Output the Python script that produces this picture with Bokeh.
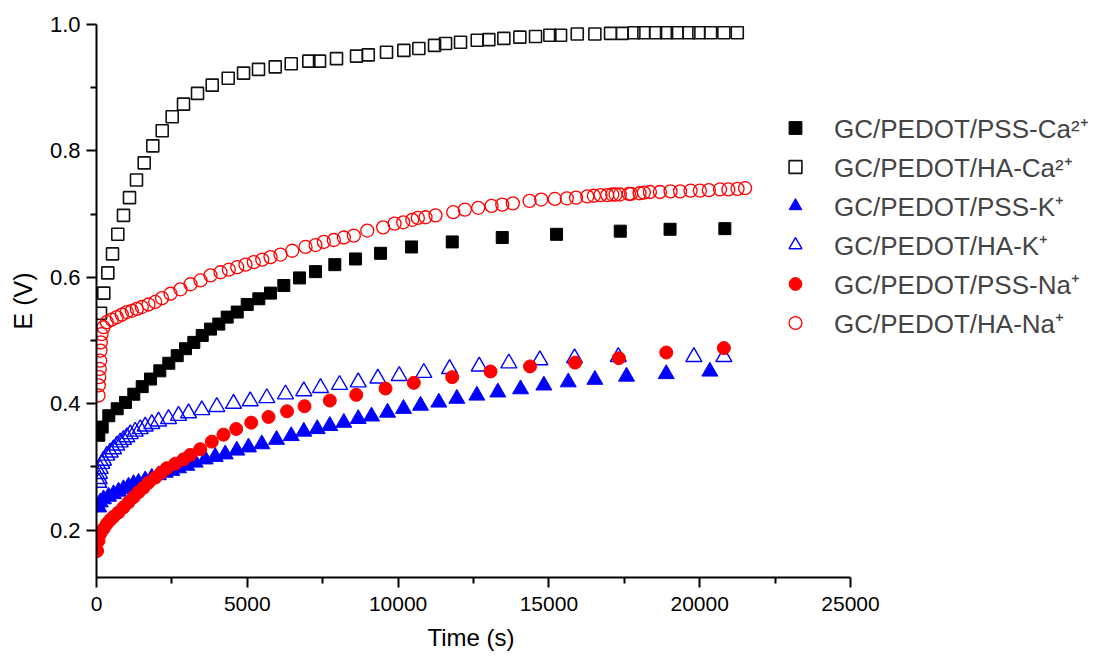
from bokeh.plotting import figure
from bokeh.models import FixedTicker, Legend, LegendItem, Range1d, PrintfTickFormatter, Title
from bokeh.embed import file_html
from bokeh.resources import INLINE

FONT = "Liberation Sans"

# ---- data (Time in s, E in V) ----
t_pss_ca = [76, 189, 408, 686, 962, 1237, 1515, 1791, 2099, 2397, 2676, 2951, 3227, 3505, 3780,
            4055, 4334, 4666, 4997, 5382, 5770, 6211, 6731, 7262, 7902, 8589, 9418, 10445, 11795,
            13453, 15254, 17366, 19017, 20834]
e_pss_ca = [0.350, 0.363, 0.381, 0.392, 0.402, 0.415, 0.427, 0.439, 0.452, 0.464, 0.476, 0.487,
            0.497, 0.508, 0.518, 0.526, 0.537, 0.545, 0.557, 0.566, 0.575, 0.587, 0.599, 0.609,
            0.620, 0.629, 0.638, 0.648, 0.656, 0.663, 0.668, 0.673, 0.676, 0.677]

t_ha_ca = [133, 242, 375, 531, 706, 895, 1094, 1326, 1582, 1867, 2179, 2510, 2885, 3349, 3837,
           4367, 4875, 5372, 5926, 6456, 7040, 7395, 7958, 8622, 9010, 9616, 10190, 10688, 11208,
           11573, 12070, 12624, 13009, 13506, 14037, 14557, 15032, 15386, 15940, 16524, 17044,
           17432, 17817, 18149, 18537, 18901, 19256, 19641, 19973, 20361, 20801, 21246]
e_ha_ca = [0.543, 0.575, 0.607, 0.637, 0.668, 0.698, 0.726, 0.754, 0.781, 0.808, 0.832, 0.854,
           0.874, 0.891, 0.904, 0.915, 0.923, 0.929, 0.933, 0.938, 0.942, 0.942, 0.946, 0.950,
           0.952, 0.956, 0.959, 0.962, 0.967, 0.970, 0.972, 0.975, 0.976, 0.978, 0.980, 0.981,
           0.983, 0.983, 0.985, 0.985, 0.986, 0.986, 0.987, 0.987, 0.987, 0.987, 0.987, 0.987,
           0.987, 0.987, 0.987, 0.987]

t_pss_k = [76, 123, 232, 398, 564, 730, 895, 1061, 1227, 1393, 1615, 1834, 2056, 2278, 2497, 2719,
           2994, 3273, 3605, 3936, 4268, 4652, 5040, 5481, 5969, 6456, 6874, 7318, 7736, 8200,
           8678, 9119, 9650, 10180, 10744, 11351, 11948, 12611, 13307, 14060, 14833, 15642, 16524,
           17575, 18891, 20337]
e_pss_k = [0.236, 0.244, 0.249, 0.253, 0.257, 0.261, 0.265, 0.269, 0.273, 0.275, 0.279, 0.283,
           0.287, 0.291, 0.294, 0.298, 0.302, 0.307, 0.312, 0.316, 0.320, 0.326, 0.331, 0.336,
           0.343, 0.349, 0.356, 0.360, 0.365, 0.370, 0.376, 0.380, 0.386, 0.392, 0.397, 0.402,
           0.408, 0.413, 0.418, 0.423, 0.429, 0.434, 0.438, 0.443, 0.447, 0.451]

t_ha_k = [76, 90, 99, 123, 176, 232, 342, 454, 564, 673, 786, 895, 1005, 1118, 1283, 1449, 1615,
          1834, 2056, 2388, 2719, 3051, 3492, 3989, 4543, 5097, 5647, 6267, 6874, 7428, 8058,
          8678, 9328, 10037, 10853, 11706, 12690, 13672, 14700, 15850, 17300, 19807, 20801]
e_ha_k = [0.275, 0.281, 0.289, 0.297, 0.305, 0.310, 0.318, 0.323, 0.328, 0.334, 0.339, 0.343,
          0.347, 0.352, 0.356, 0.360, 0.364, 0.368, 0.372, 0.376, 0.381, 0.385, 0.390, 0.395,
          0.400, 0.404, 0.409, 0.415, 0.420, 0.425, 0.430, 0.434, 0.440, 0.444, 0.449, 0.455,
          0.459, 0.464, 0.469, 0.472, 0.474, 0.474, 0.474]

t_pss_na = [20, 66, 123, 232, 342, 454, 564, 730, 895, 1061, 1227, 1393, 1559, 1724, 1946, 2145,
            2331, 2610, 2885, 3107, 3439, 3823, 4211, 4633, 5130, 5704, 6317, 6897, 7736, 8612,
            9583, 10522, 11795, 13065, 14375, 15867, 17320, 18891, 20801]
e_pss_na = [0.167, 0.183, 0.194, 0.202, 0.210, 0.216, 0.221, 0.228, 0.236, 0.244, 0.252, 0.260,
            0.267, 0.275, 0.283, 0.291, 0.298, 0.305, 0.312, 0.319, 0.328, 0.340, 0.351, 0.360,
            0.370, 0.379, 0.388, 0.396, 0.405, 0.414, 0.424, 0.433, 0.442, 0.451, 0.459, 0.465,
            0.472, 0.481, 0.488]

t_ha_na = [66, 76, 90, 109, 123, 133, 143, 166, 232, 342, 507, 673, 839, 1005, 1171, 1336, 1502,
           1724, 1946, 2172, 2454, 2785, 3117, 3449, 3780, 4112, 4387, 4666, 4941, 5216, 5495,
           5770, 6101, 6490, 6930, 7262, 7537, 7869, 8201, 8532, 8977, 9504, 9882, 10170, 10469,
           10654, 10910, 11241, 11828, 12213, 12657, 13098, 13453, 13805, 14358, 14746, 15197,
           15595, 15900, 16272, 16491, 16713, 16935, 17101, 17210, 17353, 17651, 17724, 18006,
           18149, 18348, 18680, 19034, 19349, 19697, 20006, 20304, 20675, 20950, 21255, 21504]
e_ha_na = [0.413, 0.429, 0.442, 0.455, 0.468, 0.484, 0.497, 0.510, 0.521, 0.529, 0.533, 0.537,
           0.541, 0.545, 0.547, 0.550, 0.553, 0.557, 0.561, 0.567, 0.574, 0.581, 0.589, 0.595,
           0.603, 0.608, 0.612, 0.616, 0.620, 0.624, 0.628, 0.632, 0.636, 0.642, 0.648, 0.651,
           0.656, 0.659, 0.663, 0.666, 0.674, 0.679, 0.685, 0.687, 0.691, 0.694, 0.695, 0.698,
           0.703, 0.707, 0.710, 0.713, 0.715, 0.717, 0.721, 0.723, 0.724, 0.725, 0.726, 0.728,
           0.729, 0.730, 0.730, 0.731, 0.731, 0.731, 0.732, 0.732, 0.733, 0.734, 0.735, 0.735,
           0.736, 0.736, 0.737, 0.737, 0.738, 0.739, 0.739, 0.740, 0.741]

labels = ["GC/PEDOT/PSS-Ca\u00b2\u207a", "GC/PEDOT/HA-Ca\u00b2\u207a", "GC/PEDOT/PSS-K\u207a",
          "GC/PEDOT/HA-K\u207a", "GC/PEDOT/PSS-Na\u207a", "GC/PEDOT/HA-Na\u207a"]
x_ticks = [0, 5000, 10000, 15000, 20000, 25000]
x_minor = [2500, 7500, 12500, 17500, 22500]
y_ticks = [0.2, 0.4, 0.6, 0.8, 1.0]
y_minor = [0.3, 0.5, 0.7, 0.9]

# The frame extends to the right so the legend (drawn inside it) is not clipped;
# the x axis itself is bounded to 0..25000 (754 px wide).
AXIS_PX = 754
FRAME_PX = 1000
x_end = 25000 * FRAME_PX / AXIS_PX

p = figure(frame_width=FRAME_PX, frame_height=553, min_border_left=96, min_border_top=24,
           min_border_right=0, min_border_bottom=80,
           output_backend="svg", toolbar_location=None,
           x_range=Range1d(0, x_end), y_range=Range1d(0.125, 1.0))
p.outline_line_color = None
p.xgrid.visible = False
p.ygrid.visible = False
p.background_fill_color = "white"
p.border_fill_color = "white"

r1 = p.scatter(t_pss_ca, e_pss_ca, marker="square", size=12, fill_color="black", line_color="black")
r2 = p.scatter(t_ha_ca, e_ha_ca, marker="square", size=12, fill_color=None, line_color="#111111", line_width=1.6)
r3 = p.scatter(t_pss_k, e_pss_k, marker="triangle", size=16, fill_color="#0000ff", line_color="#0000ff")
r4 = p.scatter(t_ha_k, e_ha_k, marker="triangle", size=16, fill_color=None, line_color="#0000ff", line_width=1.4)
r5 = p.scatter(t_pss_na, e_pss_na, marker="circle", size=13, fill_color="#ff0000", line_color="#ff0000")
r6 = p.scatter(t_ha_na, e_ha_na, marker="circle", size=13, fill_color=None, line_color="#ff0000", line_width=1.3)

for ax, ticks, minor in ((p.xaxis[0], x_ticks, x_minor), (p.yaxis[0], y_ticks, y_minor)):
    ax.ticker = FixedTicker(ticks=ticks, minor_ticks=minor)
    ax.axis_line_width = 2
    ax.axis_line_color = "black"
    ax.major_tick_line_width = 2
    ax.minor_tick_line_width = 2
    ax.major_tick_in = 0
    ax.major_tick_out = 10
    ax.minor_tick_in = 0
    ax.minor_tick_out = 6
    ax.major_label_text_font = FONT
    ax.major_label_text_color = "black"
    ax.axis_label_text_font = FONT
    ax.axis_label_text_font_style = "normal"
    ax.axis_label_text_color = "black"

p.xaxis[0].bounds = (0, 25000)
p.xaxis[0].major_label_text_font_size = "21px"
p.yaxis[0].major_label_text_font_size = "22px"
p.yaxis[0].formatter = PrintfTickFormatter(format="%.1f")
p.yaxis[0].axis_label = "E (V)"
p.yaxis[0].axis_label_text_font_size = "25px"
p.xaxis[0].major_label_standoff = 9
p.yaxis[0].major_label_standoff = 6
p.yaxis[0].axis_label_standoff = 10

# x-axis title, centred under the bounded axis (0..25000) rather than the whole frame
x_title = Title(text="Time (s)", align="left", offset=AXIS_PX / 2 - 46,
                text_font=FONT, text_font_size="24px", text_font_style="normal",
                text_color="black", standoff=17)
p.add_layout(x_title, "below")

legend = Legend(items=[LegendItem(label=l, renderers=[r]) for l, r in
                       zip(labels, [r1, r2, r3, r4, r5, r6])],
                location=(683, 235))
legend.label_text_font = FONT
legend.label_text_font_size = "26px"
legend.glyph_width = 32
legend.glyph_height = 39
legend.label_height = 39
legend.spacing = 0
legend.padding = 0
legend.margin = 0
legend.label_standoff = 23
legend.border_line_color = None
legend.background_fill_alpha = 0
p.add_layout(legend, "center")

open("out.html", "w").write(file_html(p, INLINE))
